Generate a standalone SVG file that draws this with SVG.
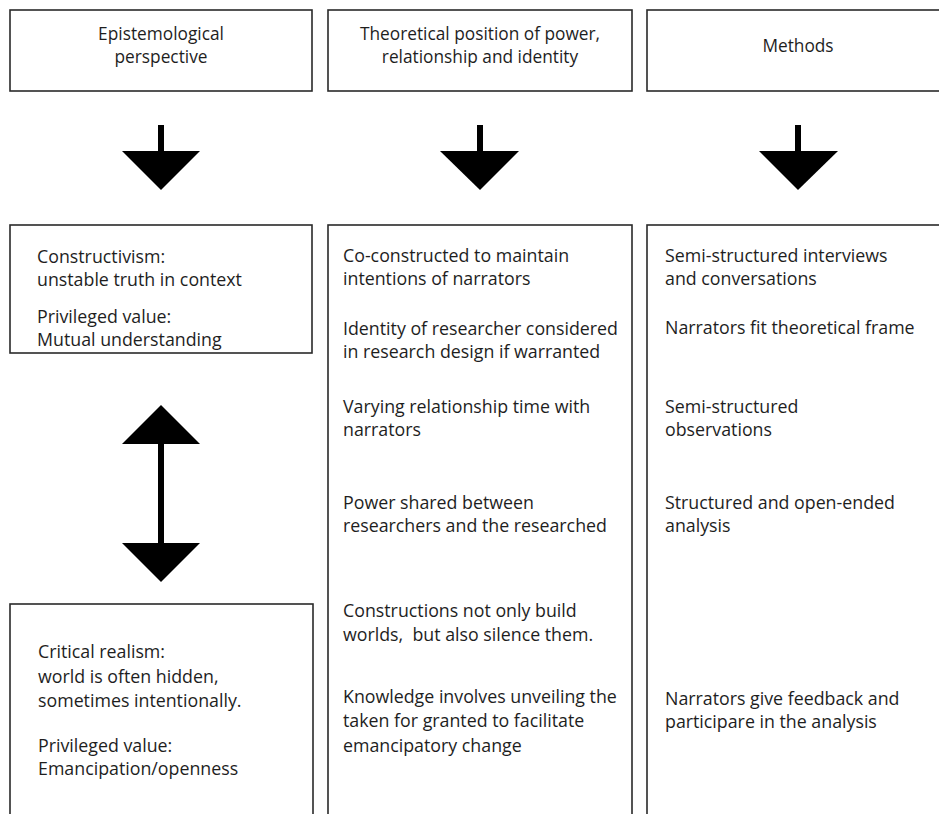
<svg xmlns="http://www.w3.org/2000/svg" width="939" height="814" viewBox="0 0 939 814">
<style>
.box{fill:#fff;stroke:#2a2a2a;stroke-width:1.6}
.t{font-family:"Open Sans","Liberation Sans",Arial,sans-serif;font-size:17.8px;fill:#1e1e1e}
.h{font-family:"Open Sans","Liberation Sans",Arial,sans-serif;font-size:17.3px;fill:#1e1e1e;text-anchor:middle}
.ar{fill:#000}
</style>
<rect width="939" height="814" fill="#fff"/>
<g id="head1"><rect class="box" x="10" y="10" width="302" height="81"/>
<text class="h" x="161" y="40">Epistemological</text><text class="h" x="161" y="63">perspective</text></g>
<g id="head2"><rect class="box" x="328" y="10" width="304" height="81"/>
<text class="h" x="480" y="40">Theoretical position of power,</text><text class="h" x="480" y="63">relationship and identity</text></g>
<g id="head3"><rect class="box" x="647" y="10" width="300" height="81"/>
<text class="h" x="798" y="52">Methods</text></g>

<g id="constructivism"><rect class="box" x="10" y="225" width="302" height="128"/>
<text class="t" x="37" y="263">Constructivism:</text>
<text class="t" x="37" y="286">unstable truth in context</text>
<text class="t" x="37" y="323">Privileged value:</text>
<text class="t" x="37" y="346">Mutual understanding</text></g>

<g id="critical"><rect class="box" x="10" y="604" width="303" height="230"/>
<text class="t" x="38" y="658">Critical realism:</text>
<text class="t" x="38" y="683">world is often hidden,</text>
<text class="t" x="38" y="707">sometimes intentionally.</text>
<text class="t" x="38" y="752">Privileged value:</text>
<text class="t" x="38" y="775">Emancipation/openness</text></g>

<g id="theory"><rect class="box" x="328" y="225" width="304" height="620"/>
<text class="t" x="343" y="262">Co-constructed to maintain</text>
<text class="t" x="343" y="285">intentions of narrators</text>
<text class="t" x="343" y="335">Identity of researcher considered</text>
<text class="t" x="343" y="358">in research design if warranted</text>
<text class="t" x="343" y="413">Varying relationship time with</text>
<text class="t" x="343" y="436">narrators</text>
<text class="t" x="343" y="509">Power shared between</text>
<text class="t" x="343" y="532">researchers and the researched</text>
<text class="t" x="343" y="617">Constructions not only build</text>
<text class="t" x="343" y="641" xml:space="preserve">worlds,  but also silence them.</text>
<text class="t" x="343" y="703">Knowledge involves unveiling the</text>
<text class="t" x="343" y="727">taken for granted to facilitate</text>
<text class="t" x="343" y="752">emancipatory change</text></g>

<g id="methods"><rect class="box" x="647" y="225" width="300" height="620"/>
<text class="t" x="665" y="262">Semi-structured interviews</text>
<text class="t" x="665" y="285">and conversations</text>
<text class="t" x="665" y="334">Narrators fit theoretical frame</text>
<text class="t" x="665" y="413">Semi-structured</text>
<text class="t" x="665" y="436">observations</text>
<text class="t" x="665" y="509">Structured and open-ended</text>
<text class="t" x="665" y="532">analysis</text>
<text class="t" x="665" y="705">Narrators give feedback and</text>
<text class="t" x="665" y="728">participare in the analysis</text></g>

<g id="connectors">
<rect class="ar" x="158" y="125" width="6" height="27"/>
<polygon class="ar" points="122,151 200,151 161,190"/>
<rect class="ar" x="477" y="125" width="6" height="27"/>
<polygon class="ar" points="440,151 519,151 480,190"/>
<rect class="ar" x="795" y="125" width="6" height="27"/>
<polygon class="ar" points="759,151 838,151 798,190"/>
<rect class="ar" x="158" y="443" width="6" height="101"/>
<polygon class="ar" points="161,405 200,444 122,444"/>
<polygon class="ar" points="122,543 200,543 161,582"/>
</g>
</svg>
